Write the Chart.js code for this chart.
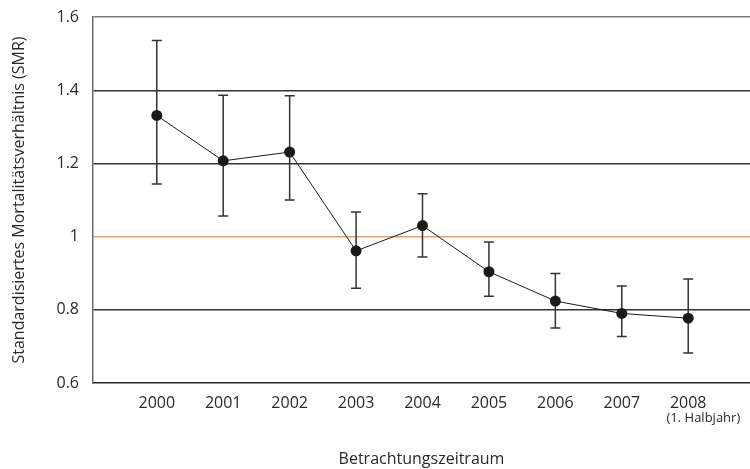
<!DOCTYPE html>
<html>
<head>
<meta charset="utf-8">
<script src="https://cdn.jsdelivr.net/npm/chart.js@4/dist/chart.umd.min.js"></script>
<style>
    html, body { margin: 0; padding: 0; background: #fff; }
    #wrap { width: 750px; height: 469px; }
</style>
</head>
<body>
<div id="wrap"><canvas id="smrChart"></canvas></div>
<script>
// Werte
const years = [2000, 2001, 2002, 2003, 2004, 2005, 2006, 2007, 2008];
const smr = [1.331, 1.207, 1.231, 0.961, 1.030, 0.904, 0.824, 0.790, 0.777];
const upper = [1.536, 1.386, 1.385, 1.067, 1.117, 0.985, 0.899, 0.865, 0.884];
const lower = [1.144, 1.056, 1.100, 0.859, 0.944, 0.837, 0.750, 0.727, 0.682];
const yTicks = [0.6, 0.8, 1, 1.2, 1.4, 1.6];
const lastNote = '(1. Halbjahr)';

const FONT = "'Open Sans', sans-serif";
const TEXT = '#2a2a2a';

// Fehlerbalken (Konfidenzintervalle)
const errorBars = {
    id: 'errorBars',
    beforeDatasetsDraw(chart) {
        const ctx = chart.ctx;
        const xs = chart.scales.x;
        const ys = chart.scales.y;
        ctx.save();
        ctx.strokeStyle = '#333';
        ctx.lineWidth = 1.5;
        years.forEach((yr, i) => {
            const x = xs.getPixelForValue(yr);
            const yTop = ys.getPixelForValue(upper[i]);
            const yBot = ys.getPixelForValue(lower[i]);
            ctx.beginPath();
            ctx.moveTo(x, yTop);
            ctx.lineTo(x, yBot);
            ctx.moveTo(x - 5, yTop);
            ctx.lineTo(x + 5, yTop);
            ctx.moveTo(x - 5, yBot);
            ctx.lineTo(x + 5, yBot);
            ctx.stroke();
        });
        ctx.restore();
    },
    afterDraw(chart) {
        // Zusatz unter dem letzten Jahr
        const ctx = chart.ctx;
        const xs = chart.scales.x;
        const x = xs.getPixelForValue(years[years.length - 1]);
        ctx.save();
        ctx.font = '13px ' + FONT;
        ctx.fillStyle = TEXT;
        ctx.textAlign = 'right';
        ctx.textBaseline = 'middle';
        ctx.fillText(lastNote, x + 52, chart.chartArea.bottom + 35);
        ctx.restore();
    }
};

const ctx = document.getElementById('smrChart').getContext('2d');
new Chart(ctx, {
    type: 'line',
    data: {
        datasets: [{
            label: 'SMR',
            data: years.map((yr, i) => ({ x: yr, y: smr[i] })),
            borderColor: '#1a1a1a',
            borderWidth: 1,
            backgroundColor: '#1a1a1a',
            pointBackgroundColor: '#1a1a1a',
            pointBorderWidth: 0,
            pointRadius: 5.5,
            tension: 0
        }]
    },
    options: {
        responsive: true,
        maintainAspectRatio: false,
        animation: false,
        layout: {
            autoPadding: false,
            padding: { top: 17, right: 0, bottom: 0, left: 0 }
        },
        plugins: {
            legend: { display: false },
            tooltip: { enabled: false }
        },
        scales: {
            x: {
                type: 'linear',
                min: 1999.04,
                max: 2008.93,
                afterFit: scale => {
                    scale.height = 86;
                    scale.paddingLeft = 0;
                    scale.paddingRight = 0;
                },
                afterBuildTicks: scale => {
                    scale.ticks = years.map(v => ({ value: v }));
                },
                grid: { display: false, drawTicks: false },
                border: { display: true, color: '#222', width: 1.5 },
                ticks: {
                    padding: 11,
                    color: TEXT,
                    font: { family: FONT, size: 16 },
                    callback: v => String(v)
                },
                title: {
                    display: true,
                    text: 'Betrachtungszeitraum',
                    color: TEXT,
                    font: { family: FONT, size: 16 },
                    padding: { top: 4, bottom: 0 }
                }
            },
            y: {
                min: 0.6,
                max: 1.6,
                afterFit: scale => {
                    scale.width = 93;
                    scale.paddingTop = 0;
                    scale.paddingBottom = 0;
                },
                afterBuildTicks: scale => {
                    scale.ticks = yTicks.map(v => ({ value: v }));
                },
                grid: {
                    drawTicks: false,
                    lineWidth: 1.4,
                    color: c => {
                        if (!c.tick) return '#333';
                        if (c.tick.value === 1) return '#f29d63';
                        if (c.tick.value === 1.6) return '#7a7a7a';
                        if (c.tick.value === 0.6) return 'rgba(0,0,0,0)';
                        return '#333';
                    }
                },
                border: { display: true, color: '#6a6a6a', width: 1.5 },
                ticks: {
                    padding: 14,
                    color: TEXT,
                    font: { family: FONT, size: 16 },
                    callback: v => String(Math.round(v * 10) / 10)
                },
                title: {
                    display: true,
                    text: 'Standardisiertes Mortalitätsverhältnis (SMR)',
                    color: TEXT,
                    font: { family: FONT, size: 16 },
                    padding: { top: 10, bottom: 4 }
                }
            }
        }
    },
    plugins: [errorBars]
});
</script>
</body>
</html>
